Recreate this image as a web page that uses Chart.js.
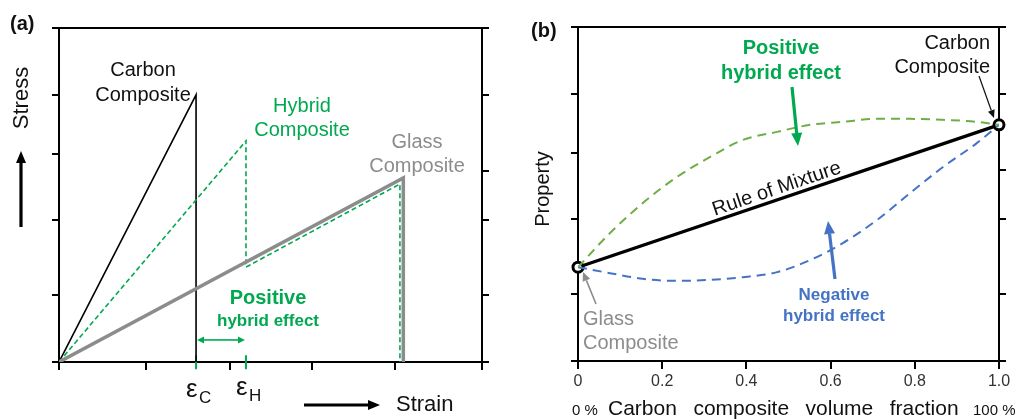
<!DOCTYPE html>
<html><head><meta charset="utf-8">
<script src="https://cdn.jsdelivr.net/npm/chart.js@4.4.1/dist/chart.umd.min.js"></script>
<style>
html,body{margin:0;padding:0;background:#fff;}
#wrap{position:relative;width:1019px;height:419px;overflow:hidden;background:#fff;}
canvas{position:absolute;top:0;}
#ca{left:0;} #cb{left:510px;}
</style></head><body>
<div id="wrap"><canvas id="ca" width="510" height="419"></canvas><canvas id="cb" width="509" height="419"></canvas></div>
<script>
// ---------- Panel (a): stress-strain ----------
const strainTicks = [0, 1.03, 2.02, 2.99, 3.97, 5];
const stressTicksLeft = [0, 2.0, 4.25, 6.23, 8.0, 10];
const stressTicksRight = [0, 2.0, 4.25, 5.72, 8.0, 10];
const carbonStrain = [0, 1.62, 1.62];
const carbonStress = [0, 8.0, 0];
const hybridStrain = [0, 2.21, 2.21, 4.03, 4.03];
const hybridStress = [0, 6.62, 2.84, 5.33, 0];
const glassStrain = [0, 4.07, 4.07];
const glassStress = [0, 5.51, 0];
const epsC = 1.62, epsH = 2.21;

// ---------- Panel (b): property vs volume fraction ----------
const fractionTicks = [0, 0.2, 0.4, 0.6, 0.8, 1.0];
const fractionTickLabels = ['0', '0.2', '0.4', '0.6', '0.8', '1.0'];
const propTicksLeft = [0, 2.0, 4.25, 6.23, 8.0, 10];
const propTicksRight = [0, 2.0, 4.25, 5.72, 8.0, 10];
const fractions = [0, 0.076, 0.154, 0.235, 0.314, 0.392, 0.473, 0.551, 0.629, 0.710, 0.789, 0.867, 0.948, 1.0];
const positiveEffect = [2.81, 3.83, 4.73, 5.51, 6.11, 6.62, 6.86, 7.07, 7.16, 7.25, 7.25, 7.22, 7.16, 7.07];
const negativeEffect = [2.81, 2.63, 2.46, 2.40, 2.43, 2.51, 2.66, 3.02, 3.53, 4.22, 5.03, 5.81, 6.53, 7.07];
const romFraction = [0, 1];
const romProperty = [2.81, 7.07];

const FONT = '"Liberation Sans", Arial, Helvetica, sans-serif';
const GREEN = '#00a850';
const GREEN2 = '#70ad47';
const BLUE = '#4472c4';
const GRAY = '#8c8c8c';
Chart.defaults.font.family = FONT;

function zip(xs, ys) { return xs.map((x, i) => ({x: x, y: ys[i]})); }
function setTicks(arr) { return function (s) { s.ticks = arr.map(v => ({value: v})); }; }

function arrow(ctx, x1, y1, x2, y2, color, lw, hl, hw) {
  const a = Math.atan2(y2 - y1, x2 - x1);
  const bx = x2 - hl * Math.cos(a), by = y2 - hl * Math.sin(a);
  ctx.save();
  ctx.strokeStyle = color; ctx.fillStyle = color; ctx.lineWidth = lw; ctx.setLineDash([]);
  ctx.beginPath(); ctx.moveTo(x1, y1); ctx.lineTo(bx, by); ctx.stroke();
  ctx.beginPath();
  ctx.moveTo(x2, y2);
  ctx.lineTo(bx + hw * Math.sin(a), by - hw * Math.cos(a));
  ctx.lineTo(bx - hw * Math.sin(a), by + hw * Math.cos(a));
  ctx.closePath(); ctx.fill();
  ctx.restore();
}
function text(ctx, s, x, y, font, color, align) {
  ctx.save(); ctx.font = font; ctx.fillStyle = color; ctx.textAlign = align || 'center';
  ctx.textBaseline = 'middle'; ctx.fillText(s, x, y); ctx.restore();
}

function frameScales(xTicks, xMax, yL, yR, xH, yLW, yRW, x2H, xTickOpts) {
  const gridOpts = (len) => ({drawOnChartArea: false, drawTicks: true, tickLength: len, color: '#000', lineWidth: 2});
  return {
    x: {type: 'linear', position: 'bottom', min: 0, max: xMax, afterBuildTicks: setTicks(xTicks),
        grid: gridOpts(8), border: {display: true, color: '#000', width: 2},
        ticks: xTickOpts || {display: false}, afterFit: s => { s.height = xH; }},
    x2: {type: 'linear', position: 'top', min: 0, max: xMax, grid: {display: false},
        border: {display: true, color: '#000', width: 2}, ticks: {display: false},
        afterFit: s => { s.height = x2H; }},
    y: {type: 'linear', position: 'left', min: 0, max: 10, afterBuildTicks: setTicks(yL),
        grid: gridOpts(7), border: {display: true, color: '#000', width: 2},
        ticks: {display: false}, afterFit: s => { s.width = yLW; }},
    y2: {type: 'linear', position: 'right', min: 0, max: 10, afterBuildTicks: setTicks(yR),
        grid: gridOpts(7), border: {display: true, color: '#000', width: 2},
        ticks: {display: false}, afterFit: s => { s.width = yRW; }}
  };
}

// ---------- Chart A ----------
const annotA = {
  id: 'annotA',
  afterDraw(chart) {
    const ctx = chart.ctx, xs = chart.scales.x, ys = chart.scales.y;
    text(ctx, '(a)', 10, 24, 'bold 20px ' + FONT, '#111', 'left');
    text(ctx, 'Carbon', 143, 70, '20px ' + FONT, '#111');
    text(ctx, 'Composite', 143, 95, '20px ' + FONT, '#111');
    text(ctx, 'Hybrid', 302, 106, '20px ' + FONT, GREEN);
    text(ctx, 'Composite', 302, 130, '20px ' + FONT, GREEN);
    text(ctx, 'Glass', 417, 142, '20px ' + FONT, GRAY);
    text(ctx, 'Composite', 417, 166, '20px ' + FONT, GRAY);
    text(ctx, 'Positive', 268, 298, 'bold 20px ' + FONT, GREEN);
    text(ctx, 'hybrid effect', 268, 321, 'bold 17px ' + FONT, GREEN);
    // double arrow between epsC and epsH
    const xa = xs.getPixelForValue(epsC), xb = xs.getPixelForValue(epsH), yy = ys.getPixelForValue(0.66);
    const mid = (xa + xb) / 2;
    arrow(ctx, mid, yy, xa + 1, yy, GREEN, 1.6, 7, 3.5);
    arrow(ctx, mid, yy, xb - 1, yy, GREEN, 1.6, 7, 3.5);
    // epsilon labels
    ctx.save();
    ctx.fillStyle = '#111'; ctx.textBaseline = 'alphabetic'; ctx.textAlign = 'left';
    ctx.font = '26px ' + FONT; ctx.fillText('\u03b5', xa - 10, 397);
    ctx.font = '17px ' + FONT; ctx.fillText('C', xa + 3, 403);
    ctx.font = '26px ' + FONT; ctx.fillText('\u03b5', xb - 10, 395);
    ctx.font = '17px ' + FONT; ctx.fillText('H', xb + 3, 401);
    ctx.restore();
    // Stress axis label with arrow
    ctx.save(); ctx.translate(22, 98); ctx.rotate(-Math.PI / 2);
    ctx.font = '22px ' + FONT; ctx.fillStyle = '#111'; ctx.textAlign = 'center'; ctx.textBaseline = 'middle';
    ctx.fillText('Stress', 0, 0); ctx.restore();
    arrow(ctx, 21, 227, 21, 151, '#000', 3.2, 12, 5);
    // Strain label with arrow
    text(ctx, 'Strain', 396, 405, '22px ' + FONT, '#111', 'left');
    arrow(ctx, 304, 405, 380, 405, '#000', 3.2, 12, 5);
  }
};

new Chart(document.getElementById('ca'), {
  type: 'scatter',
  data: {datasets: [
    {data: zip(glassStrain, glassStress), showLine: true, borderColor: GRAY, borderWidth: 3.5, pointRadius: 0, tension: 0},
    {data: zip(hybridStrain, hybridStress), showLine: true, borderColor: GREEN, borderWidth: 1.6, borderDash: [5, 3], pointRadius: 0},
    {data: zip(carbonStrain, carbonStress), showLine: true, borderColor: '#000', borderWidth: 1.6, pointRadius: 0},
    {data: zip([epsC, epsC], [0.2, -0.22]), showLine: true, borderColor: GREEN, borderWidth: 2, pointRadius: 0, clip: false},
    {data: zip([epsH, epsH], [0.2, -0.22]), showLine: true, borderColor: GREEN, borderWidth: 2, pointRadius: 0, clip: false}
  ]},
  options: {
    responsive: false, animation: false, events: [],
    layout: {padding: 0},
    plugins: {legend: {display: false}, tooltip: {enabled: false}},
    scales: frameScales(strainTicks, 5, stressTicksLeft, stressTicksRight, 57, 59, 28, 28)
  },
  plugins: [annotA]
});

// ---------- Chart B ----------
const OFF = 510;
const annotB = {
  id: 'annotB',
  afterDraw(chart) {
    const ctx = chart.ctx, xs = chart.scales.x, ys = chart.scales.y;
    ctx.save(); ctx.translate(-OFF, 0);
    text(ctx, '(b)', 531, 31, 'bold 20px ' + FONT, '#111', 'left');
    text(ctx, 'Positive', 781, 48, 'bold 20px ' + FONT, GREEN);
    text(ctx, 'hybrid effect', 781, 73, 'bold 20px ' + FONT, GREEN);
    text(ctx, 'Carbon', 990, 43, '20px ' + FONT, '#111', 'right');
    text(ctx, 'Composite', 990, 67, '20px ' + FONT, '#111', 'right');
    text(ctx, 'Negative', 834, 295, 'bold 17px ' + FONT, BLUE);
    text(ctx, 'hybrid effect', 834, 316, 'bold 17px ' + FONT, BLUE);
    text(ctx, 'Glass', 583, 319, '20px ' + FONT, GRAY, 'left');
    text(ctx, 'Composite', 583, 343, '20px ' + FONT, GRAY, 'left');
    arrow(ctx, 792, 87, 798, 146, GREEN, 3.2, 13, 5.5);
    arrow(ctx, 835, 279, 828, 221, BLUE, 3.2, 13, 5.5);
    arrow(ctx, 979, 76, 994, 118, '#111', 1.2, 8, 3.5);
    arrow(ctx, 596, 304, 583, 272, GRAY, 1.6, 9, 4);
    // Property label
    ctx.save(); ctx.translate(543, 189); ctx.rotate(-Math.PI / 2);
    ctx.font = '20px ' + FONT; ctx.fillStyle = '#111'; ctx.textAlign = 'center'; ctx.textBaseline = 'middle';
    ctx.fillText('Property', 0, 0); ctx.restore();
    // x axis title
    text(ctx, '0 %', 572, 411, '15px ' + FONT, '#111', 'left');
    text(ctx, '100 %', 973, 411, '15px ' + FONT, '#111', 'left');
    ctx.font = '21px ' + FONT; ctx.fillStyle = '#111'; ctx.textBaseline = 'middle'; ctx.textAlign = 'left';
    const words = ['Carbon', 'composite', 'volume', 'fraction'];
    let wx = 608;
    words.forEach(w => { ctx.fillText(w, wx, 409); wx += ctx.measureText(w).width + 16.5; });
    ctx.restore();
    // Rule of Mixture along the line
    const p1x = xs.getPixelForValue(romFraction[0]), p1y = ys.getPixelForValue(romProperty[0]);
    const p2x = xs.getPixelForValue(romFraction[1]), p2y = ys.getPixelForValue(romProperty[1]);
    const ang = Math.atan2(p2y - p1y, p2x - p1x);
    const t = 0.48;
    ctx.save(); ctx.translate(p1x + t * (p2x - p1x), p1y + t * (p2y - p1y)); ctx.rotate(ang);
    ctx.font = '20px ' + FONT; ctx.fillStyle = '#111'; ctx.textAlign = 'center'; ctx.textBaseline = 'alphabetic';
    ctx.fillText('Rule of Mixture', 0, -5); ctx.restore();
  }
};

new Chart(document.getElementById('cb'), {
  type: 'scatter',
  data: {datasets: [
    {data: zip(fractions, positiveEffect), showLine: true, borderColor: GREEN2, borderWidth: 2, borderDash: [9, 6], pointRadius: 0, cubicInterpolationMode: 'monotone'},
    {data: zip(fractions, negativeEffect), showLine: true, borderColor: BLUE, borderWidth: 2, borderDash: [9, 6], pointRadius: 0, cubicInterpolationMode: 'monotone'},
    {data: zip(romFraction, romProperty), showLine: true, borderColor: '#000', borderWidth: 3.2, pointRadius: 5, pointBorderWidth: 3, pointBackgroundColor: '#fff', pointBorderColor: '#000', clip: false}
  ]},
  options: {
    responsive: false, animation: false, events: [],
    layout: {padding: 0},
    plugins: {legend: {display: false}, tooltip: {enabled: false}},
    scales: frameScales(fractionTicks, 1, propTicksLeft, propTicksRight, 58, 68, 20, 27,
      {display: true, autoSkip: false, maxRotation: 0, padding: 3, color: '#333', font: {size: 16, family: FONT},
       callback: (v, i) => fractionTickLabels[i]})
  },
  plugins: [annotB]
});
</script>
</body></html>
